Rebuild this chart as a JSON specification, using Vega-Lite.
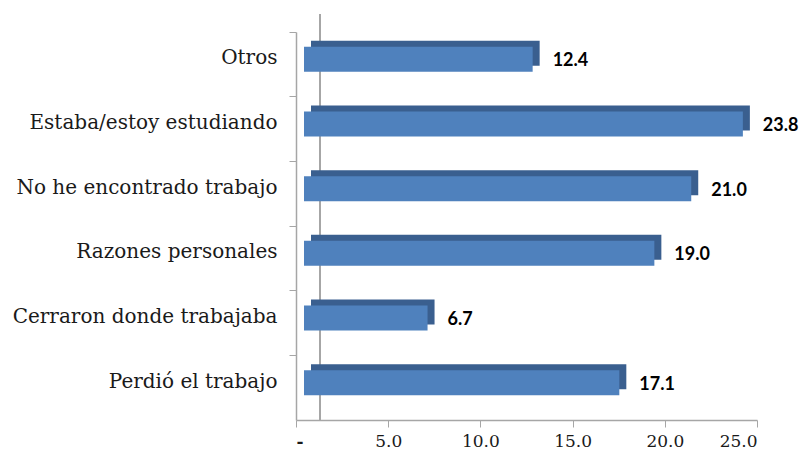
{
  "$schema": "https://vega.github.io/schema/vega-lite/v6.json",
  "autosize": "none",
  "width": 461,
  "height": 388,
  "padding": {"left": 296, "top": 32, "right": 51, "bottom": 33},
  "background": "white",
  "config": {"view": {"stroke": null}, "axis": {"labelFont": "DejaVu Serif"}},
  "data": {"values": [
    {"motivo": "Otros", "valor": 12.4},
    {"motivo": "Estaba/estoy estudiando", "valor": 23.8},
    {"motivo": "No he encontrado trabajo", "valor": 21.0},
    {"motivo": "Razones personales", "valor": 19.0},
    {"motivo": "Cerraron donde trabajaba", "valor": 6.7},
    {"motivo": "Perdió el trabajo", "valor": 17.1}
  ]},
  "encoding": {
    "y": {
      "field": "motivo", "type": "nominal", "sort": null,
      "scale": {"paddingInner": 0, "paddingOuter": 0},
      "axis": {
        "title": null, "domainColor": "#a6a6a6", "domainWidth": 1.5,
        "tickColor": "#a6a6a6", "tickSize": 7, "bandPosition": 0,
        "labelFontSize": 20, "labelColor": "#1a1a1a",
        "labelPadding": 12, "labelOffset": -6, "labelLimit": 400, "grid": false
      }
    },
    "x": {
      "field": "valor", "type": "quantitative",
      "scale": {"domain": [0, 25], "nice": false},
      "axis": {
        "title": null, "values": [0, 5, 10, 15, 20, 25],
        "labelExpr": "datum.value == 0 ? '-' : format(datum.value, '.1f')",
        "domainColor": "#a6a6a6", "domainWidth": 1.5,
        "tickColor": "#a6a6a6", "tickSize": 7, "grid": false,
        "labelFontSize": 17, "labelColor": "#1a1a1a",
        "labelPadding": 6,
        "labelFontWeight": {"condition": {"test": "datum.value == 0", "value": "bold"}, "value": "normal"}
      }
    }
  },
  "layer": [
    {
      "mark": {"type": "rule", "color": "#a6a6a6", "strokeWidth": 1.5, "xOffset": 24, "yOffset": -18},
      "encoding": {"x": {"datum": 0}, "y": null}
    },
    {
      "mark": {"type": "bar", "color": "#3a5f8f", "size": 25, "xOffset": 15, "yOffset": -11}
    },
    {
      "mark": {"type": "bar", "color": "#4f81bd", "size": 25, "xOffset": 8, "yOffset": -5}
    },
    {
      "mark": {"type": "text", "align": "left", "baseline": "middle", "dx": 28, "yOffset": -3,
               "font": "Lato", "fontWeight": "bold", "fontSize": 18, "color": "#000000"},
      "encoding": {"text": {"field": "valor", "type": "quantitative", "format": ".1f"}}
    }
  ]
}
